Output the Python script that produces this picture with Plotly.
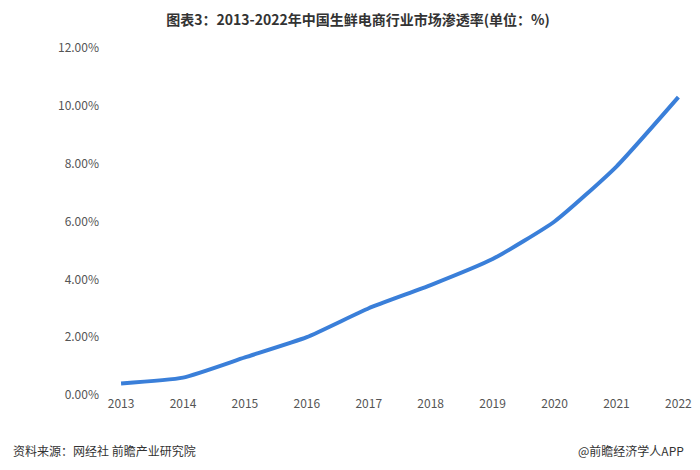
import plotly.graph_objects as go

years = ["2013","2014","2015","2016","2017","2018","2019","2020","2021","2022"]
rates = [0.40, 0.60, 1.30, 2.00, 3.00, 3.80, 4.70, 6.00, 7.90, 10.30]
yticks = [0, 2, 4, 6, 8, 10, 12]
ytext = ["0.00%", "2.00%", "4.00%", "6.00%", "8.00%", "10.00%", "12.00%"]

fig = go.Figure(go.Scatter(x=years, y=rates, mode="lines",
                           line=dict(color="#3a7fd9", width=4, shape="spline", smoothing=0.5)))
font = "Noto Sans CJK SC"
fig.update_layout(
    width=700, height=470, plot_bgcolor="white", paper_bgcolor="white",
    margin=dict(l=92, r=16, t=40, b=83), showlegend=False,
    font=dict(family=font, size=12, color="#555"),
    title=dict(text="<b>图表3：2013-2022年中国生鲜电商行业市场渗透率(单位：%)</b>",
               x=0.5, xanchor="center", y=0.985, font=dict(size=14, color="#333")),
    xaxis=dict(showgrid=False, showline=False, ticks="", range=[-0.34, 9.22]),
    yaxis=dict(range=[0, 12], tickvals=yticks, ticktext=ytext, showgrid=False,
               zeroline=False, showline=False, ticks=""),
    annotations=[
        dict(text="资料来源：网经社 前瞻产业研究院", xref="paper", yref="paper",
             x=-0.15, y=-0.19, xanchor="left", showarrow=False, font=dict(size=12, color="#333")),
        dict(text="@前瞻经济学人APP", xref="paper", yref="paper",
             x=0.99, y=-0.19, xanchor="right", showarrow=False, font=dict(size=12, color="#333")),
    ],
)
fig.write_html("out.html")
